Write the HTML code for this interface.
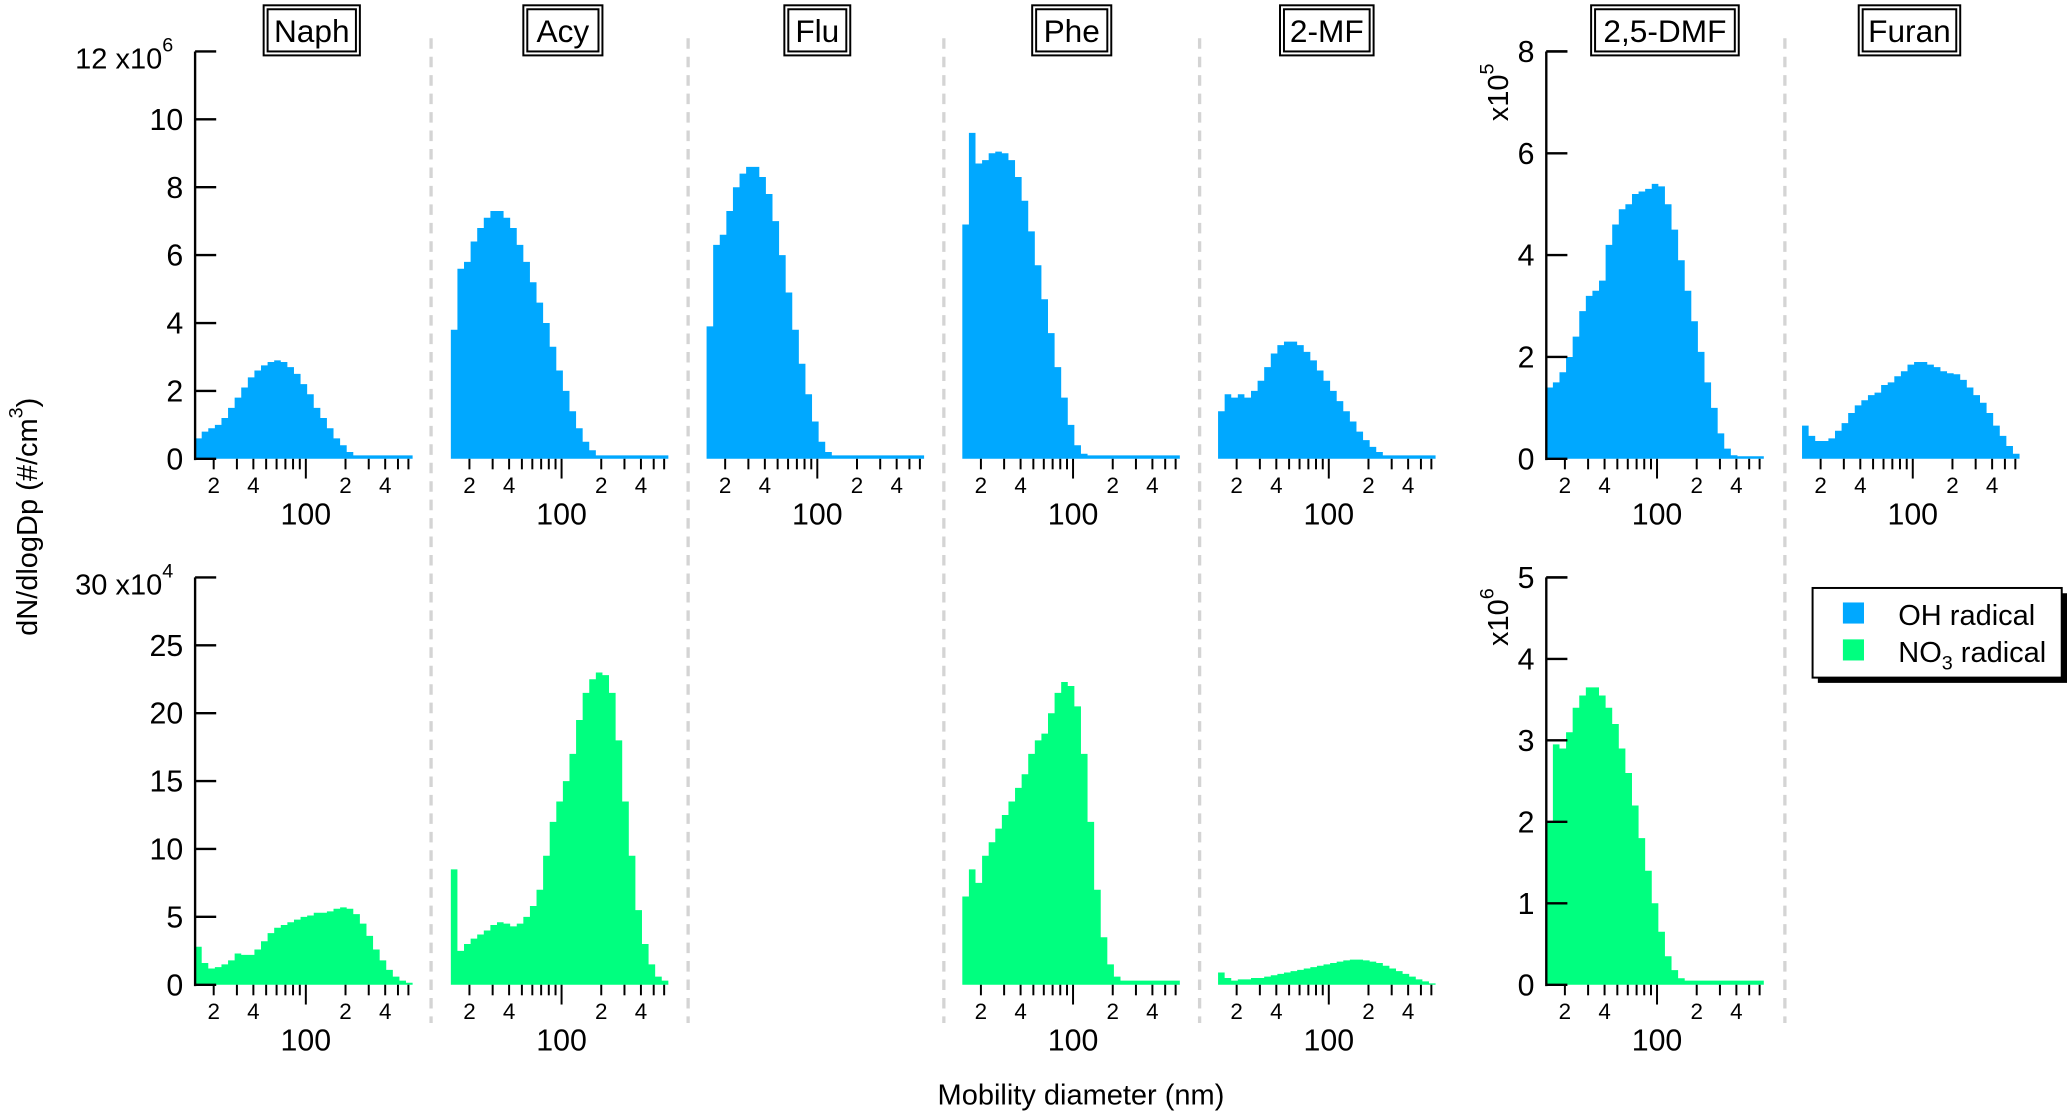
<!DOCTYPE html>
<html><head><meta charset="utf-8">
<style>
html,body{margin:0;padding:0;background:#fff;}
svg{display:block;font-family:"Liberation Sans",Arial,sans-serif;}
</style></head>
<body>
<svg id="chart" width="2067" height="1112" viewBox="0 0 1568 843.5" xmlns="http://www.w3.org/2000/svg">
<g id="g"></g>
</svg>
<script>
// bins: log10 edges start 1.16 step 0.05, 33 bins
const binStart = 1.16, binStep = 0.05;
const panels = ["Naph","Acy","Flu","Phe","2-MF","2,5-DMF","Furan"];
const ohNaph = [0.6,0.8,0.9,1.0,1.2,1.5,1.8,2.1,2.4,2.6,2.75,2.85,2.9,2.85,2.7,2.5,2.2,1.9,1.5,1.2,0.9,0.6,0.4,0.2,0.1,0.1,0.1,0.1,0.1,0.1,0.1,0.1,0.1];
const ohAcy = [3.8,5.6,5.8,6.4,6.8,7.1,7.3,7.3,7.1,6.8,6.3,5.8,5.2,4.6,4.0,3.3,2.6,2.0,1.4,0.9,0.5,0.25,0.1,0.1,0.1,0.1,0.1,0.1,0.1,0.1,0.1,0.1,0.1];
const ohFlu = [3.9,6.3,6.6,7.3,8.0,8.4,8.6,8.6,8.3,7.8,7.0,6.0,4.9,3.8,2.8,1.9,1.1,0.5,0.2,0.1,0.1,0.1,0.1,0.1,0.1,0.1,0.1,0.1,0.1,0.1,0.1,0.1,0.1];
const ohPhe = [6.9,9.6,8.7,8.8,9.0,9.05,9.0,8.8,8.3,7.6,6.7,5.7,4.7,3.7,2.7,1.8,1.0,0.4,0.15,0.1,0.1,0.1,0.1,0.1,0.1,0.1,0.1,0.1,0.1,0.1,0.1,0.1,0.1];
const oh2MF = [1.4,1.9,1.8,1.9,1.8,2.0,2.3,2.7,3.1,3.35,3.45,3.45,3.35,3.15,2.9,2.6,2.3,2.0,1.7,1.4,1.1,0.8,0.55,0.35,0.2,0.1,0.1,0.1,0.1,0.1,0.1,0.1,0.1];
const ohDMF = [1.4,1.5,1.7,2.0,2.4,2.9,3.2,3.3,3.5,4.2,4.6,4.9,5.0,5.2,5.25,5.3,5.4,5.35,5.0,4.5,3.9,3.3,2.7,2.1,1.5,1.0,0.5,0.2,0.07,0.05,0.05,0.05,0.05];
const ohFuran = [0.65,0.45,0.35,0.35,0.4,0.55,0.7,0.9,1.05,1.15,1.25,1.3,1.45,1.5,1.62,1.72,1.85,1.9,1.9,1.85,1.8,1.72,1.68,1.66,1.55,1.4,1.25,1.1,0.9,0.65,0.45,0.25,0.1];
const no3Naph = [2.8,1.6,1.2,1.3,1.5,1.8,2.3,2.2,2.2,2.6,3.2,3.8,4.2,4.4,4.6,4.8,5.0,5.1,5.3,5.3,5.4,5.6,5.7,5.6,5.2,4.5,3.6,2.6,1.8,1.1,0.6,0.3,0.15];
const no3Acy = [8.5,2.5,3.0,3.4,3.7,4.0,4.4,4.6,4.5,4.3,4.5,5.0,5.8,7.0,9.5,12.0,13.5,15.0,17.0,19.5,21.5,22.5,23.0,22.8,21.5,18.0,13.5,9.5,5.5,3.0,1.5,0.6,0.3];
const no3Phe = [6.5,8.5,7.5,9.5,10.5,11.5,12.5,13.5,14.5,15.5,17.0,18.0,18.5,20.0,21.5,22.3,22.0,20.5,17.0,12.0,7.0,3.5,1.5,0.6,0.3,0.3,0.3,0.3,0.3,0.3,0.3,0.3,0.3];
const no32MF = [0.9,0.5,0.3,0.4,0.4,0.5,0.5,0.6,0.7,0.8,0.9,1.0,1.1,1.2,1.3,1.4,1.5,1.6,1.7,1.8,1.85,1.85,1.8,1.7,1.6,1.4,1.2,1.0,0.8,0.6,0.4,0.25,0.1];
const no3DMF = [2.0,2.95,2.9,3.1,3.4,3.55,3.65,3.65,3.55,3.4,3.2,2.9,2.6,2.2,1.8,1.4,1.0,0.65,0.35,0.18,0.08,0.05,0.05,0.05,0.05,0.05,0.05,0.05,0.05,0.05,0.05,0.05,0.05];
const ticksTopA = [0,2,4,6,8,10];
const ticksBotA = [0,5,10,15,20,25];
const ticksTopB = [0,2,4,6,8];
const ticksBotB = [0,1,2,3,4,5];
const minorTicks = [20,30,40,50,60,70,80,90,200,300,400,500,600];
const minorLabels = {20:"2",40:"4",200:"2",400:"4"};

const NS="http://www.w3.org/2000/svg";
const G=document.getElementById('g');
function mk(tag,attrs,parent){const e=document.createElementNS(NS,tag);for(const k in attrs)e.setAttribute(k,attrs[k]);(parent||G).appendChild(e);return e;}

const axisX=[148,342,536,730,924,1173,1367];
const DEC=100, LOGMIN=1.16, LOGMAX=2.81;
function xs(p,logd){return axisX[p]+(logd-LOGMIN)*DEC;}
const rows=[{top:39,zero:348,lab100:398,labMin:374},{top:438,zero:747,lab100:797,labMin:773}];
const maxA=[12,30], maxB=[8,5];
function ys(r,v,max){return rows[r].zero-(v/max)*(rows[r].zero-rows[r].top);}

const OH="#00A8FF", NO3="#00FF7F";
const topSeries=[ohNaph,ohAcy,ohFlu,ohPhe,oh2MF,ohDMF,ohFuran];
const botSeries=[no3Naph,no3Acy,null,no3Phe,no32MF,no3DMF,null];

[327,522,716,910,1354].forEach((x,i)=>{
  const l=mk('line',{x1:x,y1:29,x2:x,y2:776,stroke:"#d4d4d4","stroke-width":2.5,"stroke-dasharray":"8,6"});
  
  
});

function drawArea(p,r,vals,max,color,name){
  let d="M"+xs(p,binStart)+","+rows[r].zero;
  vals.forEach((v,i)=>{
    const x0=xs(p,binStart+i*binStep), x1=xs(p,binStart+(i+1)*binStep), y=ys(r,v,max);
    d+=" L"+x0+","+y+" L"+x1+","+y;
  });
  d+=" L"+xs(p,binStart+vals.length*binStep)+","+rows[r].zero+" Z";
  const e=mk('path',{d:d,fill:color});
  
  
}
function drawXAxis(p,r){
  const g=mk('g',{});
  
  
  const z=rows[r].zero;
  minorTicks.forEach(t=>{
    const x=xs(p,Math.log10(t));
    mk('line',{x1:x,y1:z,x2:x,y2:z+8,stroke:"#000","stroke-width":1.5},g);
    if(minorLabels[t]){const tx=mk('text',{x:x,y:rows[r].labMin,"font-size":17,"text-anchor":"middle"},g);tx.textContent=minorLabels[t];}
  });
  const x=xs(p,2);
  mk('line',{x1:x,y1:z,x2:x,y2:z+15,stroke:"#000","stroke-width":1.5},g);
  const tx=mk('text',{x:x,y:rows[r].lab100,"font-size":23,"text-anchor":"middle"},g);tx.textContent="100";
}
function drawYAxis(p,r,ticks,max,name){
  const g=mk('g',{});
  
  
  const x=axisX[p];
  mk('line',{x1:x,y1:rows[r].top,x2:x,y2:rows[r].zero+1,stroke:"#000","stroke-width":1.8},g);
  mk('line',{x1:x,y1:rows[r].top,x2:x+16,y2:rows[r].top,stroke:"#000","stroke-width":1.8},g);
  ticks.forEach(t=>{
    const y=ys(r,t,max);
    mk('line',{x1:x,y1:y,x2:x+16,y2:y,stroke:"#000","stroke-width":1.8},g);
    const tx=mk('text',{x:x-9,y:y+8,"font-size":23,"text-anchor":"end"},g);tx.textContent=String(t);
  });
}
for(let p=0;p<7;p++){
  const mt=(p>=5)?maxB[0]:maxA[0];
  drawArea(p,0,topSeries[p],mt,OH,'oh-area-'+panels[p]);
  drawXAxis(p,0);
  if(botSeries[p]){
    const mb=(p>=5)?maxB[1]:maxA[1];
    drawArea(p,1,botSeries[p],mb,NO3,'no3-area-'+panels[p]);
    drawXAxis(p,1);
  }
}
drawYAxis(0,0,ticksTopA,maxA[0],'y-axis-top-left');
drawYAxis(0,1,ticksBotA,maxA[1],'y-axis-bottom-left');
drawYAxis(5,0,ticksTopB,maxB[0],'y-axis-top-dmf');
drawYAxis(5,1,ticksBotB,maxB[1],'y-axis-bottom-dmf');
</script>
<svg style="position:absolute;left:0;top:0" width="2067" height="1112" viewBox="0 0 1568 843.5" xmlns="http://www.w3.org/2000/svg" font-family="Liberation Sans, Arial, sans-serif">
<text x="57" y="52" font-size="22">12 x10<tspan dy="-13" font-size="15">6</tspan></text>
<text x="57" y="451" font-size="22">30 x10<tspan dy="-13" font-size="15">4</tspan></text>
<text transform="translate(1144,92) rotate(-90)" font-size="22">x10<tspan dy="-11" font-size="15">5</tspan></text>
<text transform="translate(1144,490) rotate(-90)" font-size="22">x10<tspan dy="-11" font-size="15">6</tspan></text>
<text transform="translate(28,392) rotate(-90)" font-size="22" text-anchor="middle">dN/dlogDp (#/cm<tspan dy="-11" font-size="15">3</tspan><tspan dy="11">)</tspan></text>
<text x="820" y="838" font-size="22" text-anchor="middle">Mobility diameter (nm)</text>
<g font-size="24" text-anchor="middle">
<g><rect x="200" y="4" width="73" height="38" fill="#fff" stroke="#000" stroke-width="1.5"/><rect x="203" y="7" width="67" height="32" fill="none" stroke="#000" stroke-width="1.5"/><text x="236.5" y="32">Naph</text></g>
<g><rect x="397" y="4" width="60" height="38" fill="#fff" stroke="#000" stroke-width="1.5"/><rect x="400" y="7" width="54" height="32" fill="none" stroke="#000" stroke-width="1.5"/><text x="427" y="32">Acy</text></g>
<g><rect x="595" y="4" width="50" height="38" fill="#fff" stroke="#000" stroke-width="1.5"/><rect x="598" y="7" width="44" height="32" fill="none" stroke="#000" stroke-width="1.5"/><text x="620" y="32">Flu</text></g>
<g><rect x="783" y="4" width="60" height="38" fill="#fff" stroke="#000" stroke-width="1.5"/><rect x="786" y="7" width="54" height="32" fill="none" stroke="#000" stroke-width="1.5"/><text x="813" y="32">Phe</text></g>
<g><rect x="971" y="4" width="71" height="38" fill="#fff" stroke="#000" stroke-width="1.5"/><rect x="974" y="7" width="65" height="32" fill="none" stroke="#000" stroke-width="1.5"/><text x="1006.5" y="32">2-MF</text></g>
<g><rect x="1207" y="4" width="112" height="38" fill="#fff" stroke="#000" stroke-width="1.5"/><rect x="1210" y="7" width="106" height="32" fill="none" stroke="#000" stroke-width="1.5"/><text x="1263" y="32">2,5-DMF</text></g>
<g><rect x="1410" y="4" width="77" height="38" fill="#fff" stroke="#000" stroke-width="1.5"/><rect x="1413" y="7" width="71" height="32" fill="none" stroke="#000" stroke-width="1.5"/><text x="1448.5" y="32">Furan</text></g>
</g>
<g>
<rect x="1379" y="450" width="189" height="68" fill="#000"/>
<rect x="1375" y="446" width="189" height="68" fill="#fff" stroke="#000" stroke-width="1.5"/>
<rect x="1398" y="457" width="16" height="16" fill="#00A8FF"/>
<text x="1440" y="474" font-size="22">OH radical</text>
<rect x="1398" y="485" width="16" height="16" fill="#00FF7F"/>
<text x="1440" y="502" font-size="22">NO<tspan dy="6" font-size="15">3</tspan><tspan dy="-6"> radical</tspan></text>
</g>
</svg>
</body></html>
